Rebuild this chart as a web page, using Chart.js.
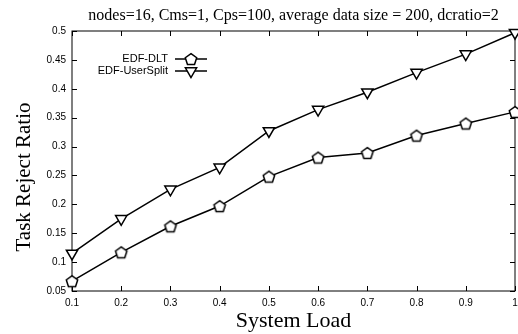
<!DOCTYPE html>
<html>
<head>
<meta charset="utf-8">
<script src="https://cdn.jsdelivr.net/npm/chart.js@4/dist/chart.umd.min.js"></script>
<style>
  html, body { margin: 0; padding: 0; background: #fff; }
</style>
</head>
<body>
<canvas id="rejectChart" width="518" height="334"></canvas>
<script>
// values
const loads = [0.1, 0.2, 0.3, 0.4, 0.5, 0.6, 0.7, 0.8, 0.9, 1.0];
const dltRatio = [0.067, 0.117, 0.162, 0.197, 0.248, 0.281, 0.289, 0.319, 0.340, 0.360];
const splitRatio = [0.115, 0.175, 0.226, 0.264, 0.327, 0.364, 0.394, 0.428, 0.460, 0.497];
const seriesNames = ["EDF-DLT", "EDF-UserSplit"];
const titleText = "nodes=16, Cms=1, Cps=100, average data size = 200, dcratio=2";
const xTitle = "System Load";
const yTitle = "Task Reject Ratio";

function pentagonImg() {
    const c = document.createElement("canvas");
    c.width = 16; c.height = 16;
    const g = c.getContext("2d");
    g.beginPath();
    for (let k = 0; k < 5; k++) {
        const a = -Math.PI / 2 + k * 2 * Math.PI / 5;
        const px = 8 + 6 * Math.cos(a), py = 8.6 + 6 * Math.sin(a);
        if (k === 0) g.moveTo(px, py); else g.lineTo(px, py);
    }
    g.closePath();
    g.fillStyle = "#fff";
    g.fill();
    g.lineWidth = 1.5;
    g.strokeStyle = "#000";
    g.stroke();
    return c;
}

function downTriangle(ctx, x, y, r) {
    ctx.beginPath();
    for (let k = 0; k < 3; k++) {
        const a = Math.PI / 2 + k * 2 * Math.PI / 3;
        const px = x + r * Math.cos(a), py = y + r * Math.sin(a);
        if (k === 0) ctx.moveTo(px, py); else ctx.lineTo(px, py);
    }
    ctx.closePath();
    ctx.fillStyle = "#fff";
    ctx.fill();
    ctx.lineWidth = 1.5;
    ctx.strokeStyle = "#000";
    ctx.stroke();
}

const pent = pentagonImg();

// frame, inward ticks, legend and titles like the gnuplot original
const gnuplotLook = {
    id: "gnuplotLook",
    beforeDatasetsDraw(chart) {
        const ctx = chart.ctx;
        const a = chart.chartArea;
        const xs = chart.scales.x, ys = chart.scales.y;
        ctx.save();
        ctx.strokeStyle = "#000";
        ctx.lineWidth = 1;
        ctx.strokeRect(a.left, a.top, a.right - a.left, a.bottom - a.top);
        ctx.beginPath();
        xs.ticks.forEach(t => {
            const px = Math.round(xs.getPixelForValue(t.value)) + 0.5;
            ctx.moveTo(px, a.bottom); ctx.lineTo(px, a.bottom - 5);
            ctx.moveTo(px, a.top); ctx.lineTo(px, a.top + 5);
        });
        ys.ticks.forEach(t => {
            const py = Math.round(ys.getPixelForValue(t.value)) + 0.5;
            ctx.moveTo(a.left, py); ctx.lineTo(a.left + 5, py);
            ctx.moveTo(a.right, py); ctx.lineTo(a.right - 5, py);
        });
        ctx.stroke();
        ctx.restore();
    },
    afterDraw(chart) {
        const ctx = chart.ctx;
        const a = chart.chartArea;
        ctx.save();
        ctx.fillStyle = "#000";
        // title
        ctx.font = "16px 'Liberation Serif'";
        ctx.textAlign = "center";
        ctx.textBaseline = "alphabetic";
        ctx.fillText(titleText, (a.left + a.right) / 2, 20);
        // axis titles
        ctx.font = "22px 'Liberation Serif'";
        ctx.fillText(xTitle, (a.left + a.right) / 2, 327);
        ctx.save();
        ctx.translate(30, 177);
        ctx.rotate(-Math.PI / 2);
        ctx.font = "21px 'Liberation Serif'";
        ctx.fillText(yTitle, 0, 0);
        ctx.restore();
        // legend
        ctx.font = "11px 'Liberation Sans'";
        ctx.textAlign = "right";
        ctx.textBaseline = "middle";
        const rows = [59, 71];
        seriesNames.forEach((name, i) => {
            const y = rows[i];
            ctx.fillText(name, 168, y);
            ctx.beginPath();
            ctx.lineWidth = 1.5;
            ctx.strokeStyle = "#000";
            ctx.moveTo(175, y); ctx.lineTo(207, y);
            ctx.stroke();
            if (i === 0) ctx.drawImage(pent, 191 - 8, y - 8);
            else downTriangle(ctx, 191, y, 6.5);
        });
        ctx.restore();
    }
};

const ctx = document.getElementById("rejectChart").getContext("2d");
new Chart(ctx, {
    type: "line",
    data: {
        datasets: [
            {
                label: seriesNames[0],
                data: loads.map((x, i) => ({ x: x, y: dltRatio[i] })),
                borderColor: "#000",
                borderWidth: 1.5,
                pointStyle: pent,
                pointRadius: 6,
                clip: false
            },
            {
                label: seriesNames[1],
                data: loads.map((x, i) => ({ x: x, y: splitRatio[i] })),
                borderColor: "#000",
                borderWidth: 1.5,
                pointStyle: "triangle",
                rotation: 180,
                pointRadius: 6.5,
                pointBorderWidth: 1.5,
                pointBackgroundColor: "#fff",
                pointBorderColor: "#000",
                clip: false
            }
        ]
    },
    options: {
        responsive: false,
        animation: false,
        events: [],
        layout: { autoPadding: false, padding: { top: 31, right: 3, left: 0, bottom: 0 } },
        plugins: {
            legend: { display: false },
            tooltip: { enabled: false }
        },
        scales: {
            x: {
                type: "linear",
                min: 0.1,
                max: 1,
                grid: { display: false, drawTicks: false },
                border: { display: false },
                ticks: {
                    stepSize: 0.1,
                    padding: 6,
                    color: "#000",
                    font: { family: "Liberation Sans", size: 10 },
                    maxRotation: 0,
                    callback: v => Number(v.toFixed(2)).toString()
                },
                afterFit(s) {
                    s.height = 43;
                    s.paddingLeft = 0;
                    s.paddingRight = 0;
                }
            },
            y: {
                min: 0.05,
                max: 0.5,
                grid: { display: false, drawTicks: false },
                border: { display: false },
                ticks: {
                    stepSize: 0.05,
                    padding: 6,
                    color: "#000",
                    font: { family: "Liberation Sans", size: 10 },
                    callback: v => Number(v.toFixed(2)).toString()
                },
                afterFit(s) {
                    s.width = 72;
                    s.paddingTop = 0;
                    s.paddingBottom = 0;
                }
            }
        }
    },
    plugins: [gnuplotLook]
});
</script>
</body>
</html>
